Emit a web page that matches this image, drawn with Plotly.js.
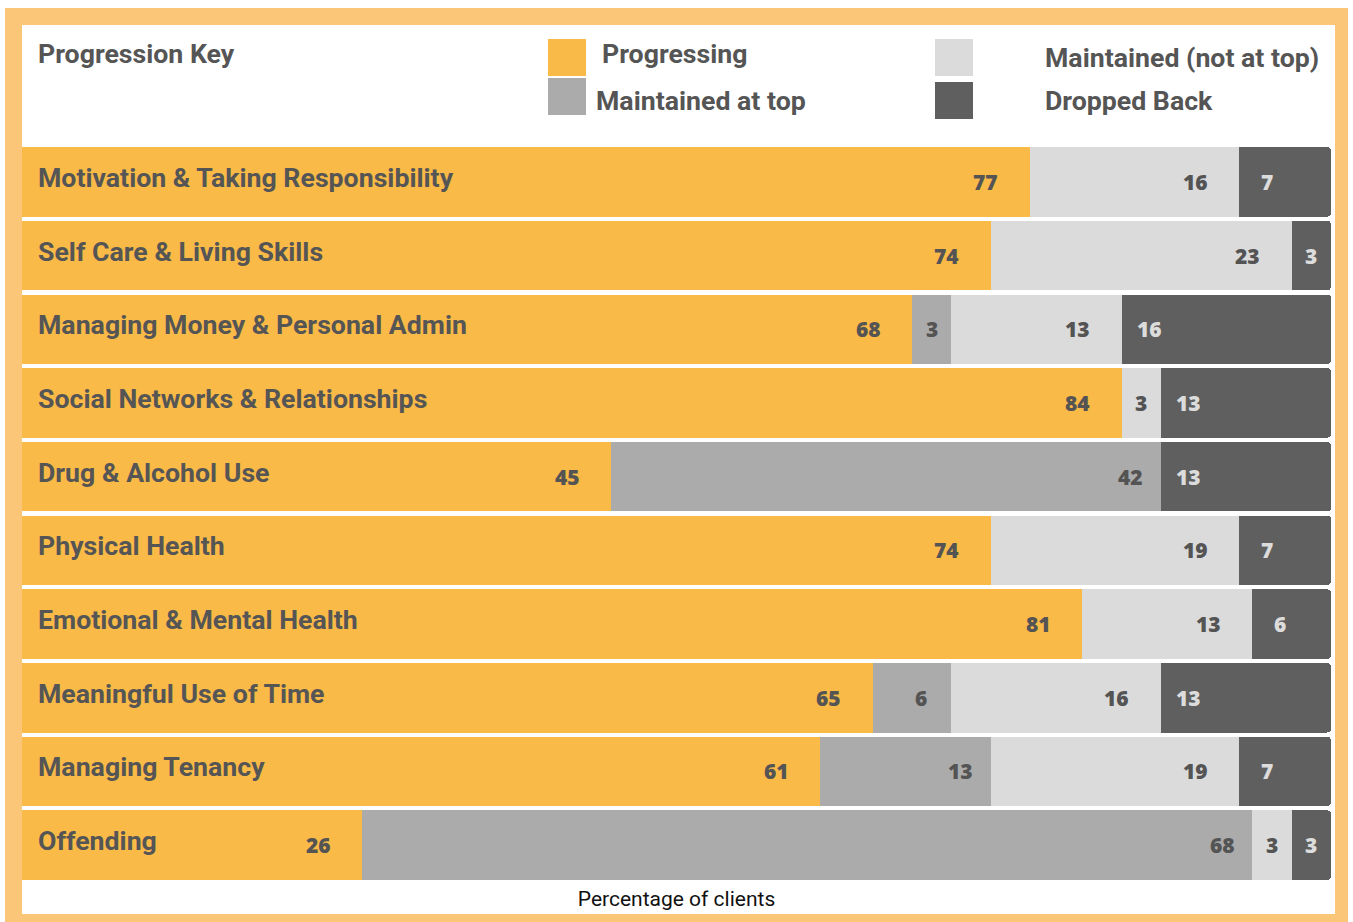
<!DOCTYPE html>
<html>
<head>
<meta charset="utf-8">
<script src="https://cdn.plot.ly/plotly-3.0.1.min.js"></script>
<style>
  html, body { margin: 0; padding: 0; background: #ffffff; width: 1353px; height: 922px; overflow: hidden; }
  #frame { position: absolute; left: 5px; top: 8px; width: 1343px; height: 914px; background: #FBC677; }
  #chart { position: absolute; left: 22px; top: 25px; width: 1313px; height: 889px; background: #ffffff; }
</style>
</head>
<body>
<div id="frame"></div>
<div id="chart"></div>
<script>
// ---- Data ----
const categories = [
  "Motivation & Taking Responsibility",
  "Self Care & Living Skills",
  "Managing Money & Personal Admin",
  "Social Networks & Relationships",
  "Drug & Alcohol Use",
  "Physical Health",
  "Emotional & Mental Health",
  "Meaningful Use of Time",
  "Managing Tenancy",
  "Offending"
];
const progressing      = [77, 74, 68, 84, 45, 74, 81, 65, 61, 26];
const maintainedAtTop  = [ 0,  0,  3,  0, 42,  0,  0,  6, 13, 68];
const maintainedNotTop = [16, 23, 13,  3,  0, 19, 13, 16, 19,  3];
const droppedBack      = [ 7,  3, 16, 13, 13,  7,  6, 13,  7,  3];
const seriesNames = ["Progressing", "Maintained at top", "Maintained (not at top)", "Dropped Back"];
const xAxisTitle = "Percentage of clients";
const keyTitle = "Progression Key";

// ---- Styles ----
const colors = ["#FABA48", "#ABABAB", "#DBDBDB", "#5F5F5F"];
const labelColors = ["#545454", "#545454", "#545454", "#DCDCDC"];
const textColor = "#555555";
const series = [progressing, maintainedAtTop, maintainedNotTop, droppedBack];

const traces = series.map((vals, i) => ({
  type: "bar",
  orientation: "h",
  name: seriesNames[i],
  x: vals,
  y: categories,
  marker: { color: colors[i], line: { width: 0 } },
  hoverinfo: "x+name",
  showlegend: false
}));

// plot area in pixels (inside the chart div)
const W = 1313, H = 889;
const M = { l: 0, r: 4, t: 120, b: 32 };
const plotW = W - M.l - M.r, plotH = H - M.t - M.b;
const pxPerUnit = plotW / 100;
// page-pixel -> paper helpers (chart div starts at page 22,25)
const px = x => (x - 22 - M.l) / plotW;
const py = y => 1 - (y - 25 - M.t) / plotH;
const labelFontSize = 26.7;

const annotations = [];
// category labels
categories.forEach(c => {
  annotations.push({
    x: 0, y: c, xref: "x", yref: "y", xanchor: "left", yanchor: "middle",
    xshift: 14, yshift: 4, showarrow: false, text: c,
    font: { family: "Roboto", size: labelFontSize, weight: "bold", color: textColor }
  });
});
// value labels: offset of label centre from the segment end (px); last series measured from its start
const centreOffset = [44, 30, 44, 28];
categories.forEach((c, r) => {
  let cum = 0;
  series.forEach((vals, i) => {
    const v = vals[r];
    const start = cum;
    cum += v;
    if (!v) return;
    const mid = (start + cum) / 2;
    const off = centreOffset[i] / pxPerUnit;
    const isLast = i === series.length - 1;
    const xc = isLast ? Math.min(mid, start + off) : Math.max(mid, cum - off);
    annotations.push({
      x: xc, y: c, xref: "x", yref: "y",
      xanchor: "center", yanchor: "middle",
      yshift: 0,
      showarrow: false, text: String(v),
      font: { family: "Open Sans", size: 21, weight: 800, color: labelColors[i] }
    });
  });
});
// key
annotations.push({
  x: px(36), y: py(54), xref: "paper", yref: "paper", xanchor: "left", yanchor: "middle",
  showarrow: false, text: keyTitle,
  font: { family: "Roboto", size: labelFontSize, weight: "bold", color: textColor }
});
const keyPos = [
  { sx: 548, sy: 39, tx: 600, ty: 54 },
  { sx: 548, sy: 78, tx: 594, ty: 101 },
  { sx: 935, sy: 39, tx: 1043, ty: 58 },
  { sx: 935, sy: 82, tx: 1043, ty: 101 }
];
const shapes = [];
keyPos.forEach((k, i) => {
  shapes.push({
    type: "rect", xref: "paper", yref: "paper",
    x0: px(k.sx), x1: px(k.sx + 38), y0: py(k.sy), y1: py(k.sy + 37),
    fillcolor: colors[i], line: { width: 0 }
  });
  annotations.push({
    x: px(k.tx), y: py(k.ty), xref: "paper", yref: "paper", xanchor: "left", yanchor: "middle",
    showarrow: false, text: seriesNames[i],
    font: { family: "Roboto", size: labelFontSize, weight: "bold", color: textColor }
  });
});

const layout = {
  width: W, height: H,
  margin: M,
  paper_bgcolor: "#ffffff",
  plot_bgcolor: "#ffffff",
  barmode: "stack",
  bargap: 0.057,
  barcornerradius: 4,
  xaxis: {
    range: [0, 100], showgrid: false, zeroline: false, showticklabels: false, ticks: "",
    title: { text: xAxisTitle, standoff: 9, font: { family: "Roboto", size: 21, color: "#111111" } }
  },
  yaxis: {
    autorange: "reversed", showgrid: false, zeroline: false, showticklabels: false, ticks: ""
  },
  annotations: annotations,
  shapes: shapes
};

Plotly.newPlot("chart", traces, layout, { displayModeBar: false, staticPlot: true });
</script>
</body>
</html>
